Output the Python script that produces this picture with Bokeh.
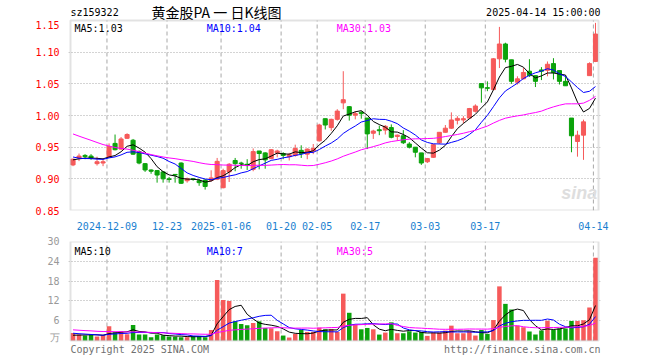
import numpy as np
from bokeh.plotting import figure
from bokeh.layouts import column
from bokeh.models import (Range1d, FixedTicker, Label, ColumnDataSource,
                          PrintfTickFormatter, BoxAnnotation)
from bokeh.embed import file_html
from bokeh.resources import INLINE

# ---------------- data ----------------
tick_idx = [6, 16, 25, 35, 41, 49, 59, 69, 87]
tick_labels = ["2024-12-09", "12-23", "2025-01-06", "01-20", "02-05",
               "02-17", "03-03", "03-17", "04-14"]
price_ticks = [0.85, 0.90, 0.95, 1.00, 1.05, 1.10, 1.15]
volume_ticks = [0, 6, 12, 18, 24, 30]

opens = [0.922, 0.933, 0.937, 0.936, 0.924, 0.925, 0.934, 0.956, 0.947, 0.964,
         0.961, 0.943, 0.924, 0.914, 0.913, 0.911, 0.900, 0.907, 0.925, 0.897,
         0.900, 0.897, 0.898, 0.8975, 0.8994, 0.886, 0.911, 0.929, 0.925, 0.923,
         0.915, 0.944, 0.941, 0.932, 0.941, 0.940, 0.935, 0.937, 0.945, 0.939,
         0.944, 0.960, 0.995, 0.981, 0.994, 1.020, 1.014, 1.0006, 1.005, 0.996,
         0.972, 0.9775, 0.977, 0.981, 0.967, 0.968, 0.955, 0.950, 0.941, 0.927,
         0.934, 0.957, 0.9735, 0.980, 0.9925, 0.993, 0.996, 1.0067, 1.0505, 1.044,
         1.041, 1.0896, 1.113, 1.088, 1.0526, 1.058, 1.070, 1.063, 1.072, 1.0714,
         1.082, 1.071, 1.054, 0.996, 0.959, 0.969, 1.063, 1.0854]
highs = [0.932, 0.940, 0.939, 0.939, 0.935, 0.932, 0.956, 0.970, 0.966, 0.972,
         0.963, 0.945, 0.925, 0.915, 0.914, 0.912, 0.903, 0.907, 0.926, 0.902,
         0.901, 0.900, 0.8995, 0.9135, 0.933, 0.916, 0.925, 0.933, 0.927, 0.931,
         0.948, 0.944, 0.942, 0.947, 0.946, 0.942, 0.941, 0.954, 0.953, 0.948,
         0.955, 0.987, 0.995, 0.995, 1.010, 1.070, 1.015, 1.007, 1.007, 0.996,
         0.9775, 0.984, 0.985, 0.986, 0.970, 0.977, 0.958, 0.950, 0.941, 0.933,
         0.955, 0.974, 0.985, 1.005, 0.999, 0.999, 1.012, 1.0177, 1.0505, 1.054,
         1.0906, 1.140, 1.115, 1.088, 1.062, 1.075, 1.089, 1.063, 1.0765, 1.0854,
         1.0906, 1.071, 1.062, 0.996, 0.976, 0.9935, 1.084, 1.1464]
lows = [0.920, 0.928, 0.931, 0.930, 0.921, 0.920, 0.933, 0.945, 0.946, 0.963,
        0.938, 0.923, 0.911, 0.908, 0.894, 0.894, 0.894, 0.894, 0.892, 0.894,
        0.897, 0.889, 0.883, 0.8953, 0.898, 0.885, 0.895, 0.912, 0.916, 0.914,
        0.912, 0.915, 0.916, 0.931, 0.934, 0.931, 0.929, 0.935, 0.933, 0.931,
        0.939, 0.959, 0.978, 0.976, 0.992, 1.010, 0.992, 0.994, 0.995, 0.947,
        0.963, 0.969, 0.970, 0.964, 0.960, 0.955, 0.948, 0.934, 0.922, 0.925,
        0.933, 0.955, 0.973, 0.979, 0.986, 0.988, 0.995, 1.0047, 1.0203, 1.0385,
        1.040, 1.075, 1.084, 1.050, 1.049, 1.057, 1.061, 1.045, 1.056, 1.062,
        1.057, 1.049, 1.047, 0.942, 0.935, 0.930, 1.0625, 1.0844]
closes = [0.931, 0.936, 0.935, 0.933, 0.927, 0.927, 0.951, 0.946, 0.963, 0.970,
          0.939, 0.925, 0.914, 0.912, 0.906, 0.900, 0.899, 0.906, 0.893, 0.900,
          0.899, 0.894, 0.888, 0.9015, 0.9276, 0.913, 0.923, 0.924, 0.924, 0.921,
          0.943, 0.940, 0.930, 0.946, 0.944, 0.937, 0.938, 0.948, 0.940, 0.947,
          0.948, 0.985, 0.985, 0.994, 1.007, 1.025, 1.0005, 1.003, 1.003, 0.971,
          0.9755, 0.976, 0.983, 0.9656, 0.969, 0.957, 0.950, 0.942, 0.925, 0.932,
          0.954, 0.9735, 0.980, 0.993, 0.9955, 0.995, 1.011, 1.015, 1.0437, 1.043,
          1.0896, 1.113, 1.089, 1.054, 1.058, 1.068, 1.063, 1.054, 1.070, 1.081,
          1.068, 1.054, 1.047, 0.968, 0.969, 0.990, 1.082, 1.1287]
volumes = [2.3, 1.8, 1.5, 1.8, 1.2, 1.7, 4.3, 2.5, 2.8, 1.9,
           4.7, 1.8, 1.8, 1.0, 1.8, 1.6, 1.2, 1.1, 1.0, 1.0,
           1.4, 1.4, 1.0, 3.2, 18.3, 12.3, 12.0, 5.8, 5.0, 4.6,
           5.3, 5.8, 3.8, 3.7, 2.8, 1.5, 0.9, 2.0, 3.2, 2.6,
           2.6, 3.9, 3.4, 3.5, 2.6, 14.2, 8.4, 4.8, 3.4, 3.8,
           3.4, 1.8, 2.4, 5.5, 2.2, 2.2, 2.8, 2.4, 2.6, 1.4,
           2.4, 2.4, 3.0, 4.5, 2.2, 2.2, 2.8, 1.5, 3.2, 2.0,
           6.2, 16.4, 11.1, 9.4, 4.5, 4.0, 2.7, 1.8, 3.0, 6.0,
           3.2, 3.6, 3.6, 5.9, 5.9, 6.1, 10.0, 25.1]
# sessions before the first visible candle (only feed the moving averages)
prior_closes = [1.04, 1.035, 1.03, 1.03, 1.025, 1.02, 1.015, 1.01, 1.0, 0.995,
                0.99, 0.985, 0.98, 0.965, 0.955, 0.945, 0.94, 0.94, 0.94, 0.942,
                0.955, 0.94, 0.935, 0.935, 0.93, 0.928, 0.93, 0.932, 0.929]
prior_volumes = [5.5, 4.8, 4.2, 5.0, 3.9, 4.4, 3.6, 3.2, 4.0, 3.5,
                 3.8, 3.3, 3.0, 4.1, 3.6, 3.2, 3.5, 3.0, 3.4, 2.0,
                 3.2, 2.6, 3.0, 2.4, 2.8, 1.6, 1.3, 1.5, 1.3]

price_legend = ["MA5:1.03", "MA10:1.04", "MA30:1.03"]
volume_legend = ["MA5:10", "MA10:7", "MA30:5"]
header = ["sz159322", "黄金股PA 一 日K线图", "2025-04-14 15:00:00"]
footer = ["Copyright 2025 SINA.COM", "http://finance.sina.com.cn"]

# ---------------- styling ----------------
MONO = "DejaVu Sans Mono"
CJK = "Noto Sans CJK SC"
RED = "#f65a5a"
GREEN = "#0ba30b"
GRID = "#a8a8a8"
FRAME = "#a0a0a0"
AXIS_BLUE = "#1a7fd0"
MA_COLORS = ["black", "#0000ff", "#ff00ff"]
PX = 6.005  # pixels per session


def moving_average(prior, vals, window):
    full = list(prior) + list(vals)
    off = len(prior)
    return [sum(full[i - window + 1:i + 1]) / window for i in range(off, len(full))]


n = len(closes)
xs = list(range(n))
colors = [RED if c >= o else GREEN for o, c in zip(opens, closes)]
src = ColumnDataSource(dict(
    x=xs, open=opens, high=highs, low=lows, close=closes,
    top=[max(o, c) for o, c in zip(opens, closes)],
    bottom=[min(o, c) for o, c in zip(opens, closes)],
    vol=volumes, color=colors))

X0, X1 = -0.42, 87.5                 # box (panel frame) edges
xr = Range1d(X0 - 2 / PX, X1 + 2 / PX)
tick_pos = [t - 0.35 for t in tick_idx]


def style(p):
    p.background_fill_color = "white"
    p.border_fill_color = "white"
    p.outline_line_color = None
    p.xgrid.visible = False
    for ax in p.axis:
        ax.axis_line_color = None
        ax.major_tick_line_color = None
        ax.minor_tick_line_color = None
        ax.major_label_text_font = MONO
        ax.major_label_text_font_size = "10px"
    p.ygrid.grid_line_color = GRID
    p.ygrid.grid_line_dash = "1 2"


def panel_frame(p, lo, hi):
    k = len(tick_pos)
    p.segment(x0=tick_pos, y0=[lo] * k, x1=tick_pos, y1=[hi] * k,
              line_color=GRID, line_width=1, line_dash="4 3")
    p.add_layout(BoxAnnotation(left=X0, right=X1, bottom=lo, top=hi, fill_color=None,
                               line_color=FRAME, line_width=2))


# ---------------- price panel (header included in the canvas) ----------------
P_LO, P_HI = price_ticks[0], price_ticks[-1]
p1 = figure(width=660, height=232, x_range=xr, y_range=Range1d(P_LO, 1.1817),
            output_backend="svg", toolbar_location=None,
            min_border_left=68, min_border_right=60, min_border_top=0, min_border_bottom=20)
style(p1)
p1.xaxis.ticker = FixedTicker(ticks=tick_pos)
p1.xaxis.major_label_overrides = dict(zip(tick_pos, tick_labels))
p1.xaxis.major_label_text_color = AXIS_BLUE
p1.xaxis.major_label_standoff = 5
top_label_pos = P_HI - 0.0063
p1.yaxis.ticker = FixedTicker(ticks=price_ticks[:-1] + [top_label_pos])
p1.yaxis.formatter = PrintfTickFormatter(format="%.2f")
p1.yaxis.major_label_overrides = {top_label_pos: "%.2f" % P_HI}
p1.yaxis.major_label_text_color = "#ff0000"
p1.yaxis.major_label_standoff = 3
p1.ygrid.ticker = FixedTicker(ticks=price_ticks[1:-1])

panel_frame(p1, P_LO, P_HI)
p1.add_layout(Label(x=84.3, y=0.878, text="sina", text_color="#dedede",
                    text_font="Liberation Sans", text_font_style="bold italic",
                    text_font_size="18px", text_align="center", text_baseline="middle"))

p1.segment(x0="x", y0="low", x1="x", y1="high", color="color", line_width=1, source=src)
p1.vbar(x="x", width=0.68, top="top", bottom="bottom", fill_color="color",
        line_color="color", line_width=1, source=src)

for w, col in zip([5, 10, 30], MA_COLORS):
    p1.line(xs, moving_average(prior_closes, closes, w), line_color=col, line_width=1)

for txt, lx, col in zip(price_legend, [0.25, 22.25, 43.92], MA_COLORS):
    p1.add_layout(Label(x=lx, y=1.1375, text=txt, text_color=col, text_font=MONO,
                        text_font_size="10px", text_baseline="middle"))

p1.add_layout(Label(x=X0, y=1.1629, text=header[0], text_color="black", text_font=MONO,
                    text_font_size="10px", text_baseline="middle"))
p1.add_layout(Label(x=13.07, y=1.1629, text=header[1], text_color="black",
                    text_font=CJK, text_font_size="14px", text_baseline="middle"))
p1.add_layout(Label(x=X1 + 2 / PX, y=1.1629, text=header[2], text_color="black",
                    text_font=MONO, text_font_size="10px", text_baseline="middle",
                    text_align="right"))

# ---------------- volume panel (footer included in the canvas) ----------------
V_LO, V_HI = volume_ticks[0], volume_ticks[-1]
p2 = figure(width=660, height=128, x_range=xr, y_range=Range1d(-6.06, V_HI),
            output_backend="svg", toolbar_location=None,
            min_border_left=68, min_border_right=60, min_border_top=9, min_border_bottom=0)
style(p2)
p2.xaxis.visible = False
unit_pos = 1.0
p2.yaxis.ticker = FixedTicker(ticks=[unit_pos] + volume_ticks[1:])
p2.yaxis.major_label_overrides = {unit_pos: "万"}
p2.yaxis.major_label_text_color = "#999999"
p2.yaxis.major_label_standoff = 3
p2.ygrid.ticker = FixedTicker(ticks=volume_ticks[1:-1])

panel_frame(p2, V_LO, V_HI)
p2.vbar(x="x", width=0.75, top="vol", bottom=0, fill_color="color", line_color=None, source=src)
for w, col in zip([5, 10, 30], MA_COLORS):
    p2.line(xs, moving_average(prior_volumes, volumes, w), line_color=col, line_width=1)

for txt, lx, col in zip(volume_legend, [0.25, 22.25, 43.92], MA_COLORS):
    p2.add_layout(Label(x=lx, y=27.0, text=txt, text_color=col, text_font=MONO,
                        text_font_size="10px", text_baseline="middle"))

p2.add_layout(Label(x=X0, y=-2.73, text=footer[0], text_color="#707070",
                    text_font=MONO, text_font_size="10px", text_baseline="middle"))
p2.add_layout(Label(x=X1 + 2 / PX, y=-2.73, text=footer[1], text_color="#707070",
                    text_font=MONO, text_font_size="10px", text_baseline="middle",
                    text_align="right"))

layout = column(p1, p2, spacing=0)
open("out.html", "w").write(file_html(layout, INLINE))
